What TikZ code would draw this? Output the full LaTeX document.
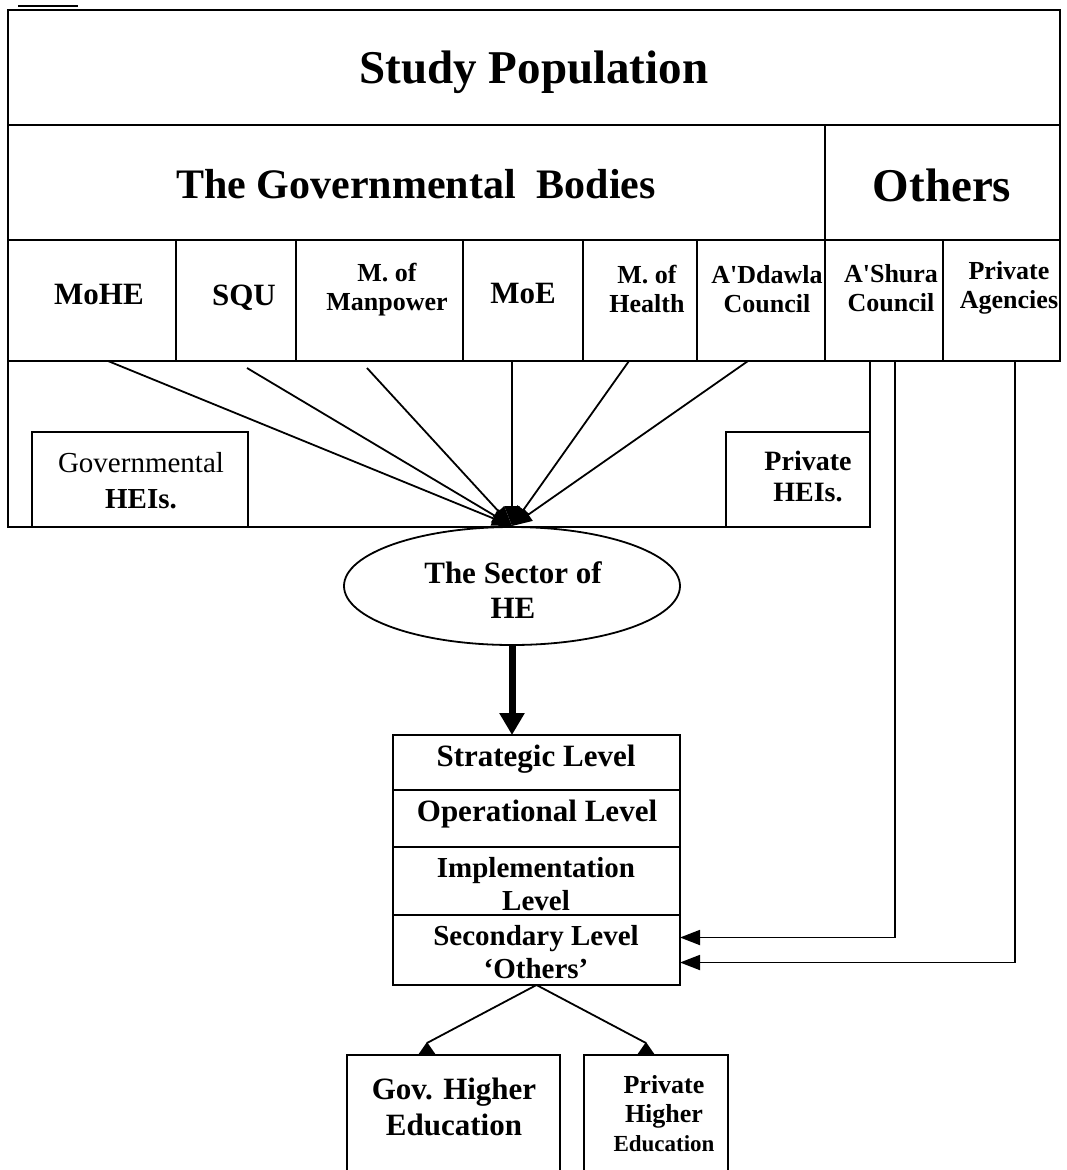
\documentclass[tikz,border=0pt]{standalone}
\usepackage{fontspec}
\setmainfont{Liberation Serif}[Ligatures=TeXOff]
\usetikzlibrary{arrows.meta,shapes.geometric,calc}

\tikzset{
  frame/.style={draw, line width=2pt, inner sep=0pt, outer sep=0pt, anchor=north west},
  txt/.style={inner sep=0pt, align=center},
  fa/.style={txt, font=\bfseries\fontsize{47}{52}\selectfont},
  fb/.style={txt, font=\bfseries\fontsize{42}{48}\selectfont},
  fc/.style={txt, font=\bfseries\fontsize{31}{35}\selectfont},
  fd/.style={txt, font=\bfseries\fontsize{26}{29}\selectfont},
  fe/.style={txt, font=\bfseries\fontsize{29}{33}\selectfont},
  conn/.style={line width=1.8pt},
  tip/.style={-{Triangle[length=20pt,width=15pt]}},
}

\begin{document}
\begin{tikzpicture}[x=1pt,y=-1pt]
\useasboundingbox[fill=white] (0,0) rectangle (1066,1170);

% short rule above the top frame
\draw[line width=1.8pt] (18,6) -- (78,6);

% header rows
\node[frame, minimum width=1052pt, minimum height=115pt] (title) at (8,10) {};
\node[frame, minimum width=817pt, minimum height=115pt] (govb) at (8,125) {};
\node[frame, minimum width=235pt, minimum height=115pt] (oth) at (825,125) {};

% bodies row
\node[frame, minimum width=168pt, minimum height=121pt] (mohe) at (8,240) {};
\node[frame, minimum width=120pt, minimum height=121pt] (squ) at (176,240) {};
\node[frame, minimum width=167pt, minimum height=121pt] (manp) at (296,240) {};
\node[frame, minimum width=120pt, minimum height=121pt] (moe) at (463,240) {};
\node[frame, minimum width=114pt, minimum height=121pt] (health) at (583,240) {};
\node[frame, minimum width=128pt, minimum height=121pt] (ddawla) at (697,240) {};
\node[frame, minimum width=118pt, minimum height=121pt] (shura) at (825,240) {};
\node[frame, minimum width=117pt, minimum height=121pt] (pagen) at (943,240) {};

% institutions area
\node[frame, minimum width=862pt, minimum height=166pt] (area) at (8,361) {};
\node[frame, minimum width=216pt, minimum height=95pt] (ghei) at (32,432) {};
\node[frame, minimum width=144pt, minimum height=95pt] (phei) at (726,432) {};

% sector ellipse
\node[draw, line width=1.8pt, ellipse, minimum width=336pt, minimum height=118pt, inner sep=0pt] (sector) at (512,586) {};

% levels stack
\node[frame, minimum width=287pt, minimum height=55pt] (lev1) at (393,735) {};
\node[frame, minimum width=287pt, minimum height=57pt] (lev2) at (393,790) {};
\node[frame, minimum width=287pt, minimum height=68pt] (lev3) at (393,847) {};
\node[frame, minimum width=287pt, minimum height=70pt] (lev4) at (393,915) {};

% higher education boxes
\node[frame, minimum width=213pt, minimum height=140pt] (gove) at (347,1055) {};
\node[frame, minimum width=144pt, minimum height=140pt] (prive) at (584,1055) {};

% texts
\node[fa] (tTitle) at (534,72) {Study Population};
\node[fb] (tGov) at (416,184) {The Governmental\ \ Bodies};
\node[fa] (tOth) at (942,185) {Others};

\node[fc] (tMohe) at (99,294) {MoHE};
\node[fc] (tSqu) at (244,298) {SQU};
\node[fd] (tManp) at (387,290) {M. of\\Manpower};
\node[fc] (tMoe) at (523,293) {MoE};
\node[fd] (tHealth) at (647,289) {M. of\\Health};
\node[fd] (tDdawla) at (767,289) {A'Ddawla\\Council};
\node[fd] (tShura) at (891,288) {A'Shura\\Council};
\node[fd] (tPagen) at (1009,288) {Private\\Agencies};

\node[txt, font=\fontsize{29}{36}\selectfont] (tGhei) at (141,481) {Governmental\\\textbf{HEIs.}};
\node[txt, font=\bfseries\fontsize{28}{31}\selectfont] (tPhei) at (808,476) {Private\\HEIs.};

\node[txt, font=\bfseries\fontsize{31}{35}\selectfont] (tSector) at (513,590) {The Sector of\\HE};

\node[fc] (tLev1) at (536,759) {Strategic Level};
\node[fc] (tLev2) at (537,814) {Operational Level};
\node[fe] (tLev3) at (536,884) {Implementation\\Level};
\node[fe] (tLev4) at (536,952) {Secondary Level\\‘Others’};

\node[txt, font=\bfseries\fontsize{31}{36}\selectfont] (tGove) at (454,1107) {Gov. Higher\\Education};
\node[txt, font=\bfseries\fontsize{26}{29}\selectfont] (tPrive) at (664,1114)
  {Private\\Higher\\{\fontsize{23}{29}\selectfont Education}};

% converging connectors
\coordinate (hub) at (512,526);
\coordinate (s1) at (108,361);
\coordinate (s2) at (247,368);
\coordinate (s3) at (367,368);
\coordinate (s4) at (512,361);
\coordinate (s5) at (629,361);
\coordinate (s6) at (748,361);
\foreach \s in {s1,s2,s3,s4,s5,s6}
  \draw[conn, tip] (\s) -- (hub);

% sector to levels
\draw[line width=7pt, -{Triangle[length=22pt,width=24pt]}] (sector.south) -- (sector.south |- lev1.north);

% others feeding the secondary level
\draw[conn, -{Triangle[length=20pt,width=15pt]}] ([xshift=11pt]shura.south) |- ([yshift=12.5pt]lev4.east);
\draw[conn, -{Triangle[length=20pt,width=15pt]}] ([xshift=13.5pt]pagen.south) |- ([yshift=-12.5pt]lev4.east);

% levels to higher education, each ending on a small triangle seated on the box top
\coordinate (gtip) at (427,1043);
\coordinate (ptip) at (646,1043);
\draw[conn] (lev4.south) -- (gtip);
\draw[conn] (lev4.south) -- (ptip);
\foreach \t in {gtip,ptip}
  \fill ($(\t)+(-9,12)$) -- ($(\t)+(9,12)$) -- ($(\t)+(0,-1)$) -- cycle;
\end{tikzpicture}
\end{document}
